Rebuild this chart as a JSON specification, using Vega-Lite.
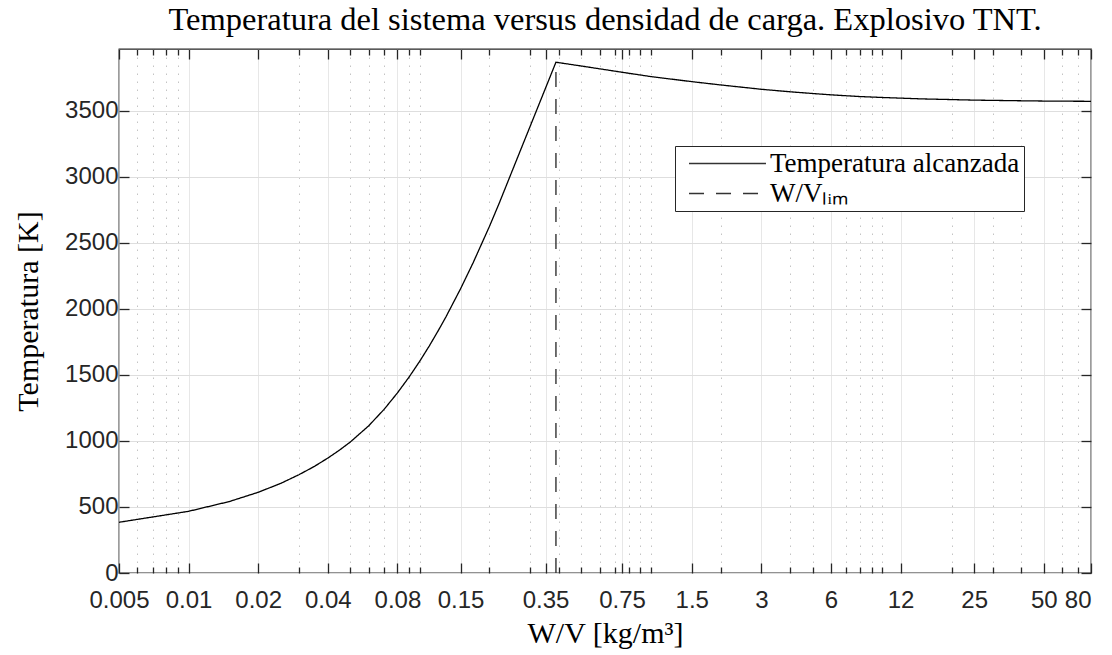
{
  "$schema": "https://vega.github.io/schema/vega-lite/v6.json",
  "width": 972,
  "height": 524,
  "autosize": {"type": "none"},
  "padding": {"left": 119, "top": 49, "right": 21, "bottom": 82},
  "background": "white",
  "title": {
    "text": "Temperatura del sistema versus densidad de carga. Explosivo TNT.",
    "font": "Liberation Serif",
    "fontSize": 32.5,
    "fontWeight": "normal",
    "color": "black",
    "anchor": "middle",
    "frame": "group",
    "baseline": "alphabetic",
    "offset": -14
  },
  "datasets": {
    "curva": [
      {"wv": 0.005, "T": 384, "serie": "Temperatura alcanzada"},
      {"wv": 0.01, "T": 467, "serie": "Temperatura alcanzada"},
      {"wv": 0.015, "T": 541, "serie": "Temperatura alcanzada"},
      {"wv": 0.02, "T": 611, "serie": "Temperatura alcanzada"},
      {"wv": 0.025, "T": 678, "serie": "Temperatura alcanzada"},
      {"wv": 0.03, "T": 744, "serie": "Temperatura alcanzada"},
      {"wv": 0.035, "T": 807, "serie": "Temperatura alcanzada"},
      {"wv": 0.04, "T": 870, "serie": "Temperatura alcanzada"},
      {"wv": 0.045, "T": 931, "serie": "Temperatura alcanzada"},
      {"wv": 0.05, "T": 991, "serie": "Temperatura alcanzada"},
      {"wv": 0.06, "T": 1113, "serie": "Temperatura alcanzada"},
      {"wv": 0.07, "T": 1238, "serie": "Temperatura alcanzada"},
      {"wv": 0.08, "T": 1363, "serie": "Temperatura alcanzada"},
      {"wv": 0.09, "T": 1485, "serie": "Temperatura alcanzada"},
      {"wv": 0.1, "T": 1604, "serie": "Temperatura alcanzada"},
      {"wv": 0.11, "T": 1720, "serie": "Temperatura alcanzada"},
      {"wv": 0.12, "T": 1833, "serie": "Temperatura alcanzada"},
      {"wv": 0.13, "T": 1942, "serie": "Temperatura alcanzada"},
      {"wv": 0.15, "T": 2151, "serie": "Temperatura alcanzada"},
      {"wv": 0.17, "T": 2348, "serie": "Temperatura alcanzada"},
      {"wv": 0.2, "T": 2623, "serie": "Temperatura alcanzada"},
      {"wv": 0.22, "T": 2795, "serie": "Temperatura alcanzada"},
      {"wv": 0.25, "T": 3037, "serie": "Temperatura alcanzada"},
      {"wv": 0.28, "T": 3251, "serie": "Temperatura alcanzada"},
      {"wv": 0.3, "T": 3381, "serie": "Temperatura alcanzada"},
      {"wv": 0.33, "T": 3561, "serie": "Temperatura alcanzada"},
      {"wv": 0.35, "T": 3672, "serie": "Temperatura alcanzada"},
      {"wv": 0.37, "T": 3777, "serie": "Temperatura alcanzada"},
      {"wv": 0.388, "T": 3867, "serie": "Temperatura alcanzada"},
      {"wv": 0.5, "T": 3838, "serie": "Temperatura alcanzada"},
      {"wv": 0.75, "T": 3791, "serie": "Temperatura alcanzada"},
      {"wv": 1, "T": 3758, "serie": "Temperatura alcanzada"},
      {"wv": 1.5, "T": 3720, "serie": "Temperatura alcanzada"},
      {"wv": 2, "T": 3695, "serie": "Temperatura alcanzada"},
      {"wv": 3, "T": 3662, "serie": "Temperatura alcanzada"},
      {"wv": 4, "T": 3643, "serie": "Temperatura alcanzada"},
      {"wv": 5, "T": 3630, "serie": "Temperatura alcanzada"},
      {"wv": 6, "T": 3620, "serie": "Temperatura alcanzada"},
      {"wv": 8, "T": 3607, "serie": "Temperatura alcanzada"},
      {"wv": 10, "T": 3600, "serie": "Temperatura alcanzada"},
      {"wv": 12, "T": 3595, "serie": "Temperatura alcanzada"},
      {"wv": 15, "T": 3589, "serie": "Temperatura alcanzada"},
      {"wv": 20, "T": 3584, "serie": "Temperatura alcanzada"},
      {"wv": 25, "T": 3580, "serie": "Temperatura alcanzada"},
      {"wv": 30, "T": 3578, "serie": "Temperatura alcanzada"},
      {"wv": 40, "T": 3575, "serie": "Temperatura alcanzada"},
      {"wv": 50, "T": 3573, "serie": "Temperatura alcanzada"},
      {"wv": 60, "T": 3572, "serie": "Temperatura alcanzada"},
      {"wv": 80, "T": 3571, "serie": "Temperatura alcanzada"}
    ],
    "limite": [
      {"wv": 0.388, "T0": 0, "T": 3867, "serie": "W/Vₗᵢₘ"}
    ]
  },
  "layer": [
    {
      "data": {"name": "curva"},
      "mark": {"type": "line", "color": "black", "strokeWidth": 1.3},
      "encoding": {
        "x": {
          "field": "wv",
          "type": "quantitative",
          "scale": {"type": "log", "domain": [0.005, 80], "nice": false},
          "axis": {
            "orient": "bottom",
            "values": [0.005, 0.006, 0.007, 0.008, 0.009, 0.01, 0.02, 0.03, 0.04, 0.05, 0.06, 0.07, 0.08, 0.09, 0.1, 0.15, 0.2, 0.3, 0.35, 0.4, 0.5, 0.6, 0.7, 0.75, 0.8, 0.9, 1, 1.5, 2, 3, 4, 5, 6, 7, 8, 9, 10, 12, 20, 25, 30, 40, 50, 60, 70, 80],
            "labelExpr": "indexof([0.005,0.01,0.02,0.04,0.08,0.15,0.35,0.75,1.5,3,6,12,25,50,80], datum.value) >= 0 ? '' + datum.value : ''",
            "grid": true,
            "gridColor": {"condition": {"test": "indexof([0.005,0.01,0.02,0.04,0.08,0.15,0.35,0.75,1.5,3,6,12,25,50,80], datum.value) >= 0", "value": "#dedede"}, "value": "#c4c4c4"},
            "gridDash": {"condition": {"test": "indexof([0.005,0.01,0.02,0.04,0.08,0.15,0.35,0.75,1.5,3,6,12,25,50,80], datum.value) >= 0", "value": [1, 0]}, "value": [1.5, 6.5]},
            "gridWidth": 1,
            "tickSize": {"condition": {"test": "indexof([0.005,0.01,0.02,0.04,0.08,0.15,0.35,0.75,1.5,3,6,12,25,50,80], datum.value) >= 0", "value": -10}, "value": -6},
            "tickColor": "#262626",
            "tickWidth": 1.3,
            "domain": false,
            "labelFont": "Liberation Sans",
            "labelFontSize": 24,
            "labelColor": "#262626",
            "labelPadding": 25,
            "labelFlush": false,
            "labelOverlap": false,
            "labelBound": false,
            "labelAlign": {"condition": {"test": "datum.value == 80", "value": "right"}, "value": "center"},
            "title": "W/V [kg/m³]",
            "titleFont": "Liberation Serif",
            "titleFontSize": 30,
            "titleFontWeight": "normal",
            "titleColor": "black",
            "titlePadding": 2
          }
        },
        "y": {
          "field": "T",
          "type": "quantitative",
          "scale": {"domain": [0, 3967], "nice": false, "zero": false},
          "axis": {
            "orient": "left",
            "values": [0, 500, 1000, 1500, 2000, 2500, 3000, 3500],
            "format": "d",
            "grid": true,
            "gridColor": "#dedede",
            "gridWidth": 1,
            "tickSize": -10,
            "tickColor": "#262626",
            "tickWidth": 1.3,
            "domain": false,
            "labelFont": "Liberation Sans",
            "labelFontSize": 24,
            "labelColor": "#262626",
            "labelPadding": 11,
            "title": "Temperatura [K]",
            "titleFont": "Liberation Serif",
            "titleFontSize": 30,
            "titleFontWeight": "normal",
            "titleColor": "black",
            "titlePadding": 21
          }
        },
        "strokeDash": {
          "field": "serie",
          "type": "nominal",
          "scale": {"domain": ["Temperatura alcanzada", "W/Vₗᵢₘ"], "range": [[1, 0], [15, 12]]},
          "legend": {
            "orient": "none",
            "legendX": 556,
            "legendY": 97,
            "title": null,
            "direction": "vertical",
            "padding": 4,
            "strokeColor": "#262626",
            "fillColor": "white",
            "symbolType": "M-5,0H5",
            "symbolSize": 237,
            "symbolOffset": 35,
            "symbolStrokeWidth": 1.3,
            "symbolStrokeColor": "black",
            "labelFont": "Liberation Serif",
            "labelFontSize": 27,
            "labelColor": "black",
            "labelOffset": 29,
            "labelLimit": 0,
            "rowPadding": 2
          }
        }
      }
    },
    {
      "data": {"name": "limite"},
      "mark": {"type": "rule", "color": "#333333", "strokeWidth": 1.4},
      "encoding": {
        "x": {
          "field": "wv",
          "type": "quantitative",
          "axis": {
            "orient": "top",
            "values": [0.005, 0.006, 0.007, 0.008, 0.009, 0.01, 0.02, 0.03, 0.04, 0.05, 0.06, 0.07, 0.08, 0.09, 0.1, 0.15, 0.2, 0.3, 0.35, 0.4, 0.5, 0.6, 0.7, 0.75, 0.8, 0.9, 1, 1.5, 2, 3, 4, 5, 6, 7, 8, 9, 10, 12, 20, 25, 30, 40, 50, 60, 70, 80],
            "labels": false,
            "grid": false,
            "domain": false,
            "tickSize": {"condition": {"test": "indexof([0.005,0.01,0.02,0.04,0.08,0.15,0.35,0.75,1.5,3,6,12,25,50,80], datum.value) >= 0", "value": -10}, "value": -6},
            "tickColor": "#262626",
            "tickWidth": 1.3,
            "title": null
          }
        },
        "y": {
          "field": "T0",
          "type": "quantitative",
          "axis": {
            "orient": "right",
            "values": [0, 500, 1000, 1500, 2000, 2500, 3000, 3500],
            "labels": false,
            "grid": false,
            "domain": false,
            "tickSize": -10,
            "tickColor": "#262626",
            "tickWidth": 1.3,
            "title": null
          }
        },
        "y2": {"field": "T"},
        "strokeDash": {"field": "serie", "type": "nominal"}
      }
    }
  ],
  "resolve": {"axis": {"x": "independent", "y": "independent"}},
  "config": {
    "view": {"stroke": "#262626", "strokeWidth": 1.3}
  }
}
